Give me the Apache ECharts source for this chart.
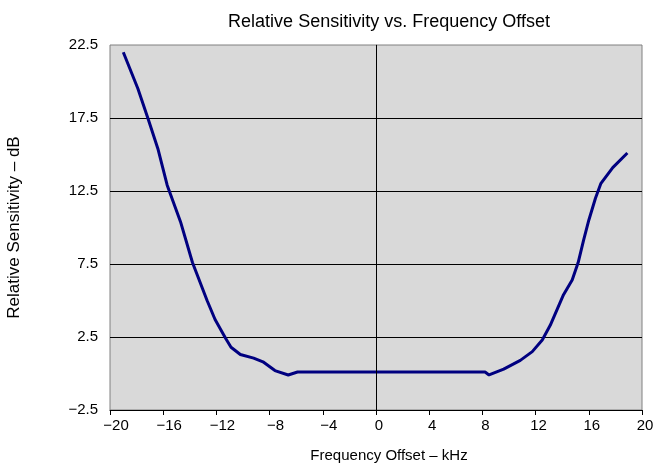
<!DOCTYPE html>
<html>
<head>
<meta charset="utf-8">
<script src="https://cdn.jsdelivr.net/npm/echarts@6/dist/echarts.min.js"></script>
<style>html,body{margin:0;padding:0;background:#fff}#c{width:656px;height:465px}</style>
</head>
<body>
<div id="c"></div>
<script>
// Frequency offset (kHz)
const freqOffset = [-19.0,-17.9,-17.1,-16.4,-15.7,-14.7,-13.8,-12.7,-12.1,-11.3,-10.9,-10.2,-9.2,-8.5,-7.6,-6.6,-5.9,-4,0,4,8.2,8.5,9.6,10.85,11.75,12.5,13.1,14.1,14.75,15.2,15.6,16.0,16.5,16.9,17.8,18.9];
// Relative sensitivity (dB)
const sensitivity = [22.0,19.5,17.35,15.4,12.9,10.4,7.6,5.0,3.7,2.4,1.8,1.3,1.05,0.8,0.2,-0.1,0.1,0.1,0.1,0.1,0.1,-0.1,0.3,0.9,1.5,2.3,3.3,5.4,6.4,7.6,9.1,10.5,12.0,13.0,14.1,15.1];
const xTicks = [-20,-16,-12,-8,-4,0,4,8,12,16,20];
const yTicks = [-2.5,2.5,7.5,12.5,17.5,22.5];
const Y_SHIFT = 2.5; // axis drawn on shifted scale so min is a multiple of interval

function fmt(v){ return v < 0 ? '\u2212' + Math.abs(v) : String(v); }

const chart = echarts.init(document.getElementById('c'), null, {renderer:'canvas'});
const FONT = 'Liberation Sans, Arial, sans-serif';
chart.setOption({
  animation:false,
  backgroundColor:'#fff',
  title:{text:'Relative Sensitivity vs. Frequency Offset', left:384, top:8, textAlign:'center',
    textStyle:{fontFamily:FONT, fontSize:18, fontWeight:'normal', color:'#000'}},
  grid:{left:110, right:14, top:45, bottom:55, outerBoundsMode:'none', containLabel:false,
    show:true, backgroundColor:'#d9d9d9', borderColor:'#808080', borderWidth:1},
  xAxis:{type:'value', min:xTicks[0], max:xTicks[xTicks.length-1], interval:xTicks[1]-xTicks[0],
    name:'Frequency Offset \u2013 kHz', nameLocation:'middle', nameGap:38,
    nameTextStyle:{fontFamily:FONT, fontSize:15, color:'#000', padding:[0,0,0,26]},
    axisLine:{show:true, onZero:false, lineStyle:{color:'#000', width:1}},
    axisTick:{show:true, length:5, lineStyle:{color:'#000'}},
    splitLine:{show:false},
    axisLabel:{margin:8, fontFamily:FONT, fontSize:15, color:'#000',
      formatter:v => v < 0 ? '{n|' + fmt(v) + '}' : '{p|' + fmt(v) + '}',
      rich:{n:{fontFamily:FONT, fontSize:15, color:'#000', padding:[0,0,0,12]},
            p:{fontFamily:FONT, fontSize:15, color:'#000', padding:[0,0,0,6]}}}},
  yAxis:{type:'value', min:yTicks[0]+Y_SHIFT, max:yTicks[yTicks.length-1]+Y_SHIFT, interval:yTicks[1]-yTicks[0],
    name:'Relative Sensitivity \u2013 dB', nameLocation:'middle', nameGap:87,
    nameTextStyle:{fontFamily:FONT, fontSize:17, color:'#000'},
    axisLine:{show:true, lineStyle:{color:'#808080'}},
    axisTick:{show:false},
    splitLine:{show:true, showMinLine:false, showMaxLine:false, lineStyle:{color:'#000', width:1}},
    axisLabel:{margin:12, fontFamily:FONT, fontSize:15, color:'#000', formatter:v => fmt(+(v - Y_SHIFT).toFixed(1))}},
  series:[{type:'line', data:freqOffset.map((x,i)=>[x, sensitivity[i]+Y_SHIFT]), showSymbol:false, smooth:false,
    lineStyle:{color:'#000080', width:3}, itemStyle:{color:'#000080'},
    markLine:{silent:true, symbol:'none', label:{show:false}, lineStyle:{color:'#000', width:1, type:'solid'}, data:[{xAxis:0}]}}]
});
</script>
</body>
</html>
